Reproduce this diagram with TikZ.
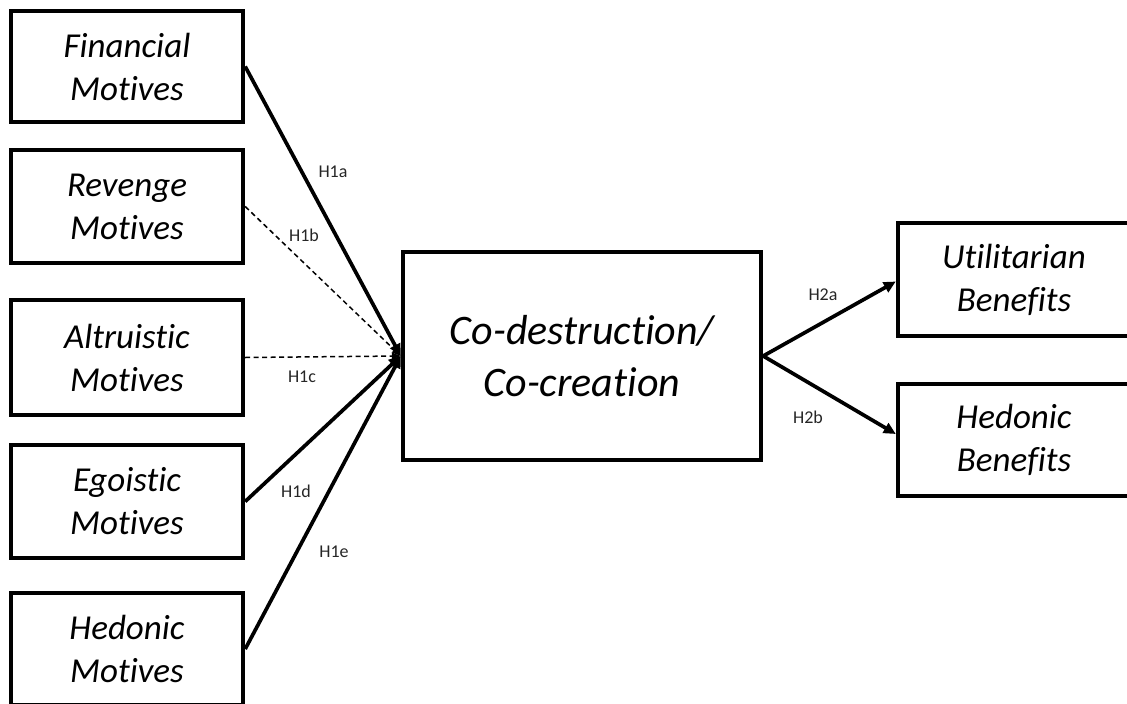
\documentclass[tikz,border=0pt]{standalone}
\usepackage{fontspec}
\setmainfont{Carlito}[Ligatures={NoCommon}]
\usetikzlibrary{arrows.meta}

\tikzset{
  factor/.style={draw=black, line width=4.4pt, fill=white, inner sep=0pt,
    minimum width=232pt, align=center,
    font=\itshape\fontsize{35}{43}\selectfont},
  core/.style={draw=black, line width=4.4pt, inner sep=0pt,
    minimum width=358pt, minimum height=208pt, align=center,
    font=\itshape\fontsize{42}{52}\selectfont},
  path/.style={line width=3.7pt, -{Triangle[length=12pt,width=11pt]}},
  weakpath/.style={line width=1.5pt, dash pattern=on 5pt off 3.5pt,
    -{Triangle[length=9pt,width=7pt]}},
  hyp/.style={font=\fontsize{18}{21}\selectfont, text=black!85, inner sep=0pt}
}

\begin{document}
\begin{tikzpicture}[x=1pt, y=-1pt]
  \useasboundingbox (0,0) rectangle (1127,704);
  \clip (0,0) rectangle (1127,704);

  % antecedent motives
  \node[factor, minimum height=111pt] (fin)  at (127,66.5)  {Financial\\Motives};
  \node[factor, minimum height=113pt] (rev)  at (127,206.5) {Revenge\\Motives};
  \node[factor, minimum height=115pt] (alt)  at (127,357.5) {Altruistic\\Motives};
  \node[factor, minimum height=113pt] (ego)  at (127,501.5) {Egoistic\\Motives};
  \node[factor, minimum height=112pt] (hedm) at (127,649)   {Hedonic\\Motives};

  % central construct
  \node[core] (cen) at (582,356) {Co-destruction/\\Co-creation};

  % outcomes
  \node[factor, minimum height=113pt] (util) at (1014,279.5) {Utilitarian\\Benefits};
  \node[factor, minimum height=112pt] (hedb) at (1014,440)   {Hedonic\\Benefits};

  % hypothesised paths
  \draw[weakpath] (rev.east) -- (cen.west);
  \draw[weakpath] (alt.east) -- (cen.west);
  \draw[path] (fin.east)  -- (cen.west);
  \draw[path] (ego.east)  -- (cen.west);
  \draw[path] (hedm.east) -- (cen.west);
  \draw[path] (cen.east) -- ([yshift=-2pt]util.west);
  \draw[path] (cen.east) -- ([yshift=6pt]hedb.west);

  % path labels
  \node[hyp] (h1a) at (333,172) {H1a};
  \node[hyp] (h1b) at (304,235) {H1b};
  \node[hyp] (h1c) at (302,377) {H1c};
  \node[hyp] (h1d) at (296,491) {H1d};
  \node[hyp] (h1e) at (334,552) {H1e};
  \node[hyp] (h2a) at (823,295) {H2a};
  \node[hyp] (h2b) at (808,417) {H2b};
\end{tikzpicture}
\end{document}
